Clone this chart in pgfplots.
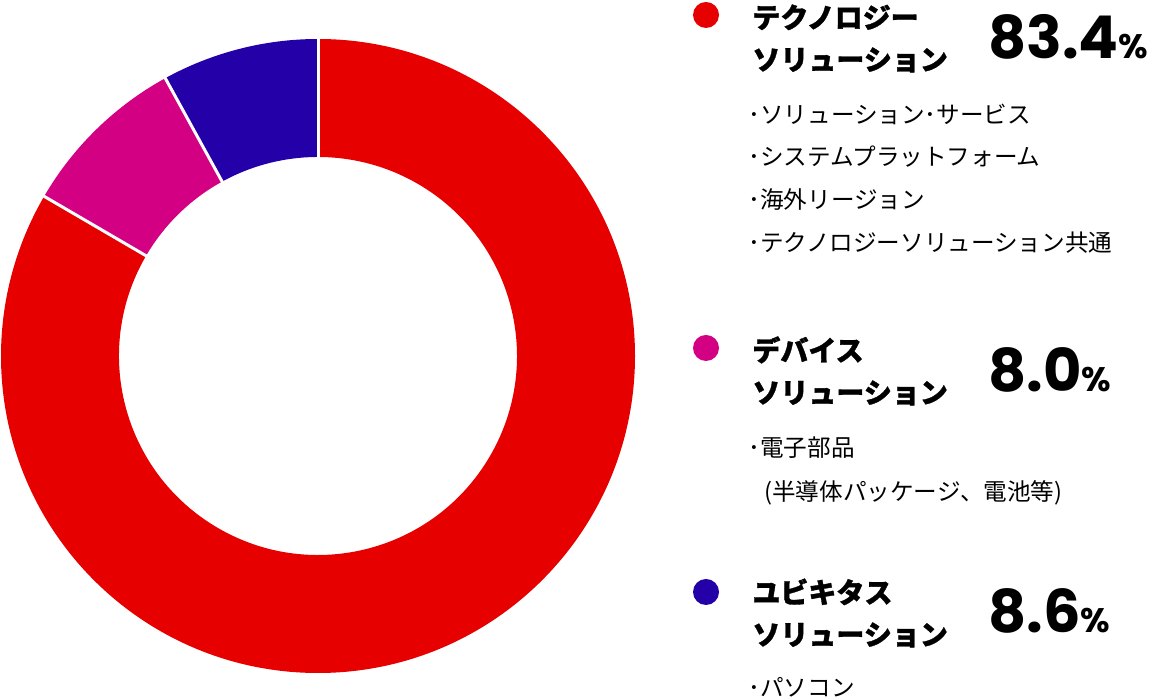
\documentclass[border=0pt]{standalone}
\usepackage{pgfplots}
\pgfplotsset{compat=1.18}
\usepackage{pgfplotstable}
\usepackage{fontspec}
\newfontfamily\jp{Noto Sans CJK JP}[BoldFeatures={FakeBold=1.2}]
\newfontfamily\num{Poppins}
\definecolor{cTech}{HTML}{E60000}
\definecolor{cDev}{HTML}{D40084}
\definecolor{cUbi}{HTML}{2400A8}

% segment sizes as drawn in the reference ring (percent of the circle)
\pgfplotstableread{
seg value
Tech 83.4
Device 8.6
Ubiq 8.0
}\shares

\newcommand\hd[1]{{\jp\bfseries\fontsize{14}{14}\selectfont #1}}
\newcommand\bd[1]{{\jp\fontsize{11.8}{11.8}\selectfont #1}}
\newcommand\pc[1]{{\num\bfseries\fontsize{29.5}{29.5}\selectfont #1{\fontsize{17}{17}\selectfont\%}}}

\begin{document}
\begin{tikzpicture}[x=0.5pt,y=0.5pt]
\path[use as bounding box] (0,0) rectangle (1152,700);
\pgfplotstablegetelem{0}{value}\of\shares \let\va\pgfplotsretval
\pgfplotstablegetelem{1}{value}\of\shares \let\vb\pgfplotsretval
\pgfplotstablegetelem{2}{value}\of\shares \let\vc\pgfplotsretval
\pgfmathsetmacro\aA{90}
\pgfmathsetmacro\aB{90-3.6*\va}
\pgfmathsetmacro\aC{\aB-3.6*\vb}
\pgfmathsetmacro\aD{\aC-3.6*\vc}
\begin{axis}[at={(159pt,172pt)}, anchor=center, scale only axis,
  width=317pt, height=317pt, xmin=-1, xmax=1, ymin=-1, ymax=1,
  hide axis, clip=false]
\def\ri{0.6278}
\fill[cTech] (axis cs:{cos(\aA)},{sin(\aA)}) arc[start angle=\aA,end angle=\aB,radius=158.5pt]
  -- (axis cs:{\ri*cos(\aB)},{\ri*sin(\aB)}) arc[start angle=\aB,end angle=\aA,radius=99.5pt] -- cycle;
\fill[cDev] (axis cs:{cos(\aB)},{sin(\aB)}) arc[start angle=\aB,end angle=\aC,radius=158.5pt]
  -- (axis cs:{\ri*cos(\aC)},{\ri*sin(\aC)}) arc[start angle=\aC,end angle=\aB,radius=99.5pt] -- cycle;
\fill[cUbi] (axis cs:{cos(\aC)},{sin(\aC)}) arc[start angle=\aC,end angle=\aD,radius=158.5pt]
  -- (axis cs:{\ri*cos(\aD)},{\ri*sin(\aD)}) arc[start angle=\aD,end angle=\aC,radius=99.5pt] -- cycle;
\draw[white, line width=1.5pt] (axis cs:{0.6*cos(\aA)},{0.6*sin(\aA)}) -- (axis cs:{1.02*cos(\aA)},{1.02*sin(\aA)});
\draw[white, line width=1.5pt] (axis cs:{0.6*cos(\aB)},{0.6*sin(\aB)}) -- (axis cs:{1.02*cos(\aB)},{1.02*sin(\aB)});
\draw[white, line width=1.5pt] (axis cs:{0.6*cos(\aC)},{0.6*sin(\aC)}) -- (axis cs:{1.02*cos(\aC)},{1.02*sin(\aC)});
\end{axis}

% legend group 1
\fill[cTech] (706,685) circle[radius=6.5pt];
\node[anchor=base west, inner sep=0pt] at (752,672) {\hd{テクノロジー}};
\node[anchor=base west, inner sep=0pt] at (752,630) {\hd{ソリューション}};
\node[anchor=base west, inner sep=0pt] at (988,641) {\pc{83.4}};
\node[anchor=base west, inner sep=0pt] at (748,576.5) {\bd{･ソリューション･サービス}};
\node[anchor=base west, inner sep=0pt] at (748,534) {\bd{･システムプラットフォーム}};
\node[anchor=base west, inner sep=0pt] at (748,491.5) {\bd{･海外リージョン}};
\node[anchor=base west, inner sep=0pt] at (748,448.5) {\bd{･テクノロジーソリューション共通}};

% legend group 2
\fill[cDev] (706,352) circle[radius=6.5pt];
\node[anchor=base west, inner sep=0pt] at (752,339) {\hd{デバイス}};
\node[anchor=base west, inner sep=0pt] at (752,297) {\hd{ソリューション}};
\node[anchor=base west, inner sep=0pt] at (988,308) {\pc{8.0}};
\node[anchor=base west, inner sep=0pt] at (748,243.5) {\bd{･電子部品}};
\node[anchor=base west, inner sep=0pt] at (764,199.5) {\bd{(半導体パッケージ、電池等)}};

% legend group 3
\fill[cUbi] (706,108) circle[radius=6.5pt];
\node[anchor=base west, inner sep=0pt] at (752,97) {\hd{ユビキタス}};
\node[anchor=base west, inner sep=0pt] at (752,55) {\hd{ソリューション}};
\node[anchor=base west, inner sep=0pt] at (988,67) {\pc{8.6}};
\node[anchor=base west, inner sep=0pt] at (748,3.5) {\bd{･パソコン}};
\end{tikzpicture}
\end{document}
